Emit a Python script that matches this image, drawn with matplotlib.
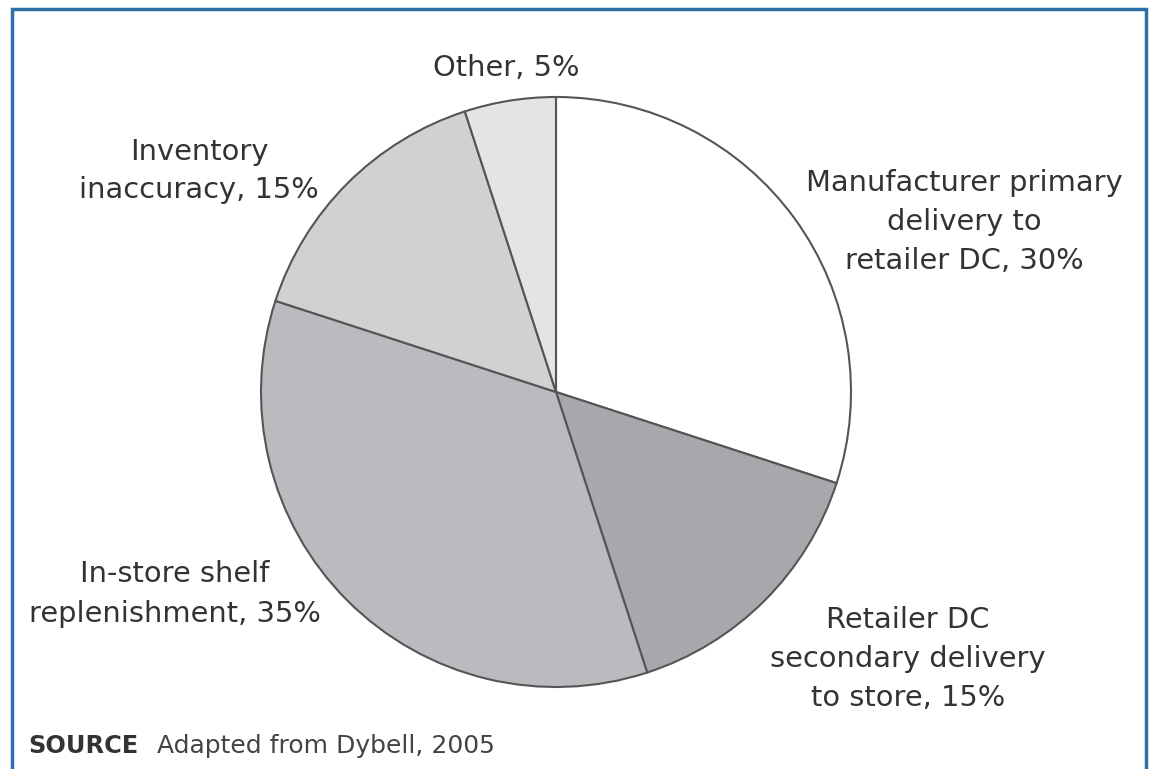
import matplotlib.pyplot as plt

# data (clockwise from 12 o'clock)
labels = ["Manufacturer primary\ndelivery to\nretailer DC, 30%",
          "Retailer DC\nsecondary delivery\nto store, 15%",
          "In-store shelf\nreplenishment, 35%",
          "Inventory\ninaccuracy, 15%",
          "Other, 5%"]
shares = [30, 15, 35, 15, 5]
colors = ["#ffffff", "#a7a8ab", "#babbbe", "#d0d1d3", "#e3e4e6"]

W, H = 1149, 769
fig = plt.figure(figsize=(W / 100, H / 100), dpi=100)
ax = fig.add_axes([0, 0, 1, 1])

# pixel (top-left origin) -> axes coords
def py(y):
    return H - y

ax.pie(shares, colors=colors, startangle=90, counterclock=False,
       center=(556, py(392)), radius=295, frame=True,
       wedgeprops=dict(edgecolor="#555555", linewidth=1.5))
ax.set_xlim(0, W)
ax.set_ylim(0, H)
ax.set_aspect("equal")
ax.axis("off")

txt = dict(fontsize=20.8, color="#333333", family="DejaVu Sans",
           ha="center", va="center", linespacing=1.5)
label_pos = [(964, 222), (908, 659), (175, 594), (199, 171), (506, 68)]
for lab, (x, y) in zip(labels, label_pos):
    ax.text(x, py(y), lab, **txt)

# source line
ax.text(28, py(746), "SOURCE", fontsize=17.3, fontweight="bold", color="#333333",
        family="DejaVu Sans", ha="left", va="center")
ax.text(157, py(746), "Adapted from Dybell, 2005", fontsize=18, color="#444444",
        family="DejaVu Sans", ha="left", va="center")

# blue frame (open at the bottom)
ax.plot([12, 12, 1146, 1146], [0, py(9), py(9), 0], color="#2a6fa8",
        linewidth=2.5, solid_joinstyle="miter", clip_on=False)

fig.savefig("out.png", dpi=100)
